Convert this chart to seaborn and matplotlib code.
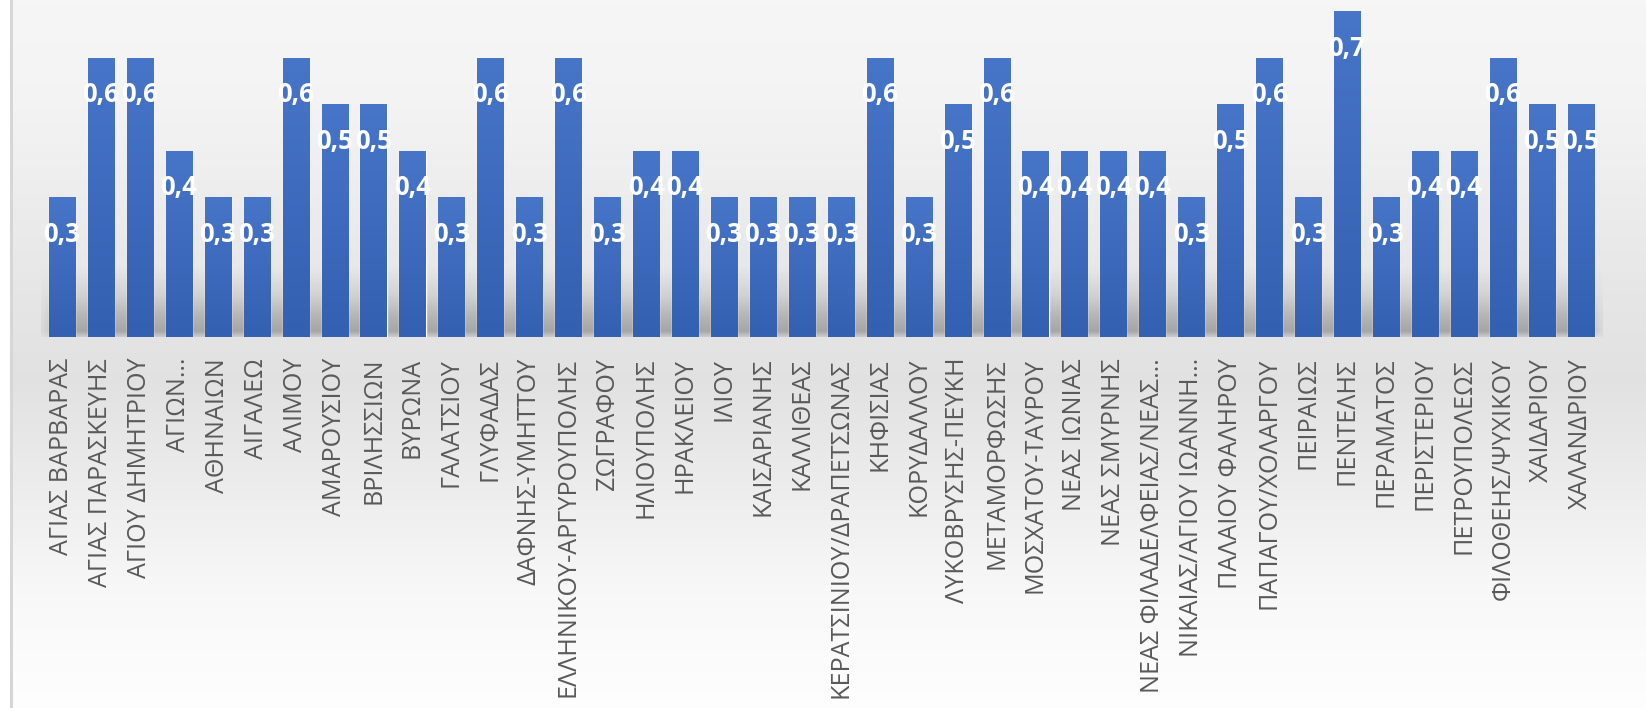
import numpy as np
import matplotlib
matplotlib.use("Agg")
import matplotlib.pyplot as plt
import seaborn as sns
from matplotlib.colors import to_rgb

# ---------------- data ----------------
municipalities = [
    "ΑΓΙΑΣ ΒΑΡΒΑΡΑΣ", "ΑΓΙΑΣ ΠΑΡΑΣΚΕΥΗΣ", "ΑΓΙΟΥ ΔΗΜΗΤΡΙΟΥ", "ΑΓΙΩΝ…",
    "ΑΘΗΝΑΙΩΝ", "ΑΙΓΑΛΕΩ", "ΑΛΙΜΟΥ", "ΑΜΑΡΟΥΣΙΟΥ", "ΒΡΙΛΗΣΣΙΩΝ", "ΒΥΡΩΝΑ",
    "ΓΑΛΑΤΣΙΟΥ", "ΓΛΥΦΑΔΑΣ", "ΔΑΦΝΗΣ-ΥΜΗΤΤΟΥ", "ΕΛΛΗΝΙΚΟΥ-ΑΡΓΥΡΟΥΠΟΛΗΣ",
    "ΖΩΓΡΑΦΟΥ", "ΗΛΙΟΥΠΟΛΗΣ", "ΗΡΑΚΛΕΙΟΥ", "ΙΛΙΟΥ", "ΚΑΙΣΑΡΙΑΝΗΣ",
    "ΚΑΛΛΙΘΕΑΣ", "ΚΕΡΑΤΣΙΝΙΟΥ/ΔΡΑΠΕΤΣΩΝΑΣ", "ΚΗΦΙΣΙΑΣ", "ΚΟΡΥΔΑΛΛΟΥ",
    "ΛΥΚΟΒΡΥΣΗΣ-ΠΕΥΚΗ", "ΜΕΤΑΜΟΡΦΩΣΗΣ", "ΜΟΣΧΑΤΟΥ-ΤΑΥΡΟΥ", "ΝΕΑΣ ΙΩΝΙΑΣ",
    "ΝΕΑΣ ΣΜΥΡΝΗΣ", "ΝΕΑΣ ΦΙΛΑΔΕΛΦΕΙΑΣ/ΝΕΑΣ…", "ΝΙΚΑΙΑΣ/ΑΓΙΟΥ ΙΩΑΝΝΗ…",
    "ΠΑΛΑΙΟΥ ΦΑΛΗΡΟΥ", "ΠΑΠΑΓΟΥ/ΧΟΛΑΡΓΟΥ", "ΠΕΙΡΑΙΩΣ", "ΠΕΝΤΕΛΗΣ",
    "ΠΕΡΑΜΑΤΟΣ", "ΠΕΡΙΣΤΕΡΙΟΥ", "ΠΕΤΡΟΥΠΟΛΕΩΣ", "ΦΙΛΟΘΕΗΣ/ΨΥΧΙΚΟΥ",
    "ΧΑΙΔΑΡΙΟΥ", "ΧΑΛΑΝΔΡΙΟΥ",
]
values = [
    0.3, 0.6, 0.6, 0.4, 0.3, 0.3, 0.6, 0.5, 0.5, 0.4,
    0.3, 0.6, 0.3, 0.6, 0.3, 0.4, 0.4, 0.3, 0.3, 0.3,
    0.3, 0.6, 0.3, 0.5, 0.6, 0.4, 0.4, 0.4, 0.4, 0.3,
    0.5, 0.6, 0.3, 0.7, 0.3, 0.4, 0.4, 0.6, 0.5, 0.5,
]

# ---------------- style ----------------
sns.set_theme(style="white")
plt.rcParams["font.family"] = ["Open Sans", "DejaVu Sans"]

W, H = 1646, 708
fig = plt.figure(figsize=(W / 100, H / 100), dpi=100)

# background gradient (chart area fill), left white margin and border line
bg_ax = fig.add_axes([0, 0, 1, 1], zorder=-10)
yy = np.arange(H)
stops_y = [0, 100, 300, 380, 480, 600, 708]
stops_c = [0.965, 0.955, 0.90, 0.885, 0.925, 0.975, 0.995]
g = np.interp(yy, stops_y, stops_c)
img = np.ones((H, W, 3))
img[:, :, :] = g[:, None, None]
img[:, :11, :] = 1.0
img[:, 10:13, :] = 0.84
bg_ax.imshow(img, extent=[0, W, H, 0], aspect="auto", interpolation="bilinear")
bg_ax.set_xlim(0, W)
bg_ax.set_ylim(H, 0)
bg_ax.axis("off")

# main axes
base_px = 337
px_per_unit = 465.0
x0_px = 62.0
pitch = 38.94
xlo, xhi = -0.6, 39.6
ylo, yhi = 0.0, 0.72
left = (x0_px + xlo * pitch) / W
right = (x0_px + xhi * pitch) / W
bottom = (H - base_px) / H
top = (H - (base_px - yhi * px_per_unit)) / H
ax = fig.add_axes([left, bottom, right - left, top - bottom])
ax.patch.set_alpha(0)

sns.barplot(x=municipalities, y=values, ax=ax, color="#4472C4",
            saturation=1, width=0.67, zorder=3)

# soft floor shadow behind bars
sh_h = 0.15
ny = 80
t = np.linspace(0, 1, ny)  # 0 = bottom, 1 = top
prof = np.interp(t, [0, 0.08, 0.3, 0.6, 1.0], [0.18, 0.45, 0.34, 0.14, 0.0])
nx = 400
xprof = np.interp(np.linspace(0, 1, nx), [0, 0.015, 0.985, 1], [0.2, 1, 1, 0.2])
alpha = prof[::-1][:, None] * xprof[None, :]
shadow = np.zeros((ny, nx, 4))
shadow[..., :3] = 0.35
shadow[..., 3] = alpha
ax.imshow(shadow, extent=[-0.55, 39.55, 0, sh_h], aspect="auto",
          interpolation="bilinear", zorder=1)

# gradient fill inside bars
c_top = np.array(to_rgb("#4775C8"))
c_bot = np.array(to_rgb("#3460B1"))
grad = np.linspace(0, 1, 64)[:, None]
gimg = (c_top[None, :] * (1 - grad) + c_bot[None, :] * grad)[:, None, :]
for p in ax.patches:
    x, w, h = p.get_x(), p.get_width(), p.get_height()
    ax.imshow(gimg, extent=[x, x + w, 0, h], aspect="auto",
              interpolation="bilinear", zorder=3.5)

# data labels
for i, v in enumerate(values):
    ax.annotate(f"{v:.1f}".replace(".", ","), xy=(i, v), xytext=(0, -26.6),
                textcoords="offset points", ha="center", va="center",
                color="white", fontweight="bold", fontsize=18.5, zorder=6,
                family=["Open Sans", "DejaVu Sans"])

ax.set_xlim(xlo, xhi)
ax.set_ylim(ylo, yhi)
ax.set_yticks([])
ax.set_xlabel("")
ax.set_ylabel("")
for s in ax.spines.values():
    s.set_visible(False)
ax.tick_params(axis="x", length=0, pad=15)
ax.set_xticks(range(len(municipalities)))
ax.set_xticklabels(municipalities, rotation=90, color="#595959", fontsize=18.1,
                   ha="center", va="top")

fig.savefig("out.png", dpi=100)
